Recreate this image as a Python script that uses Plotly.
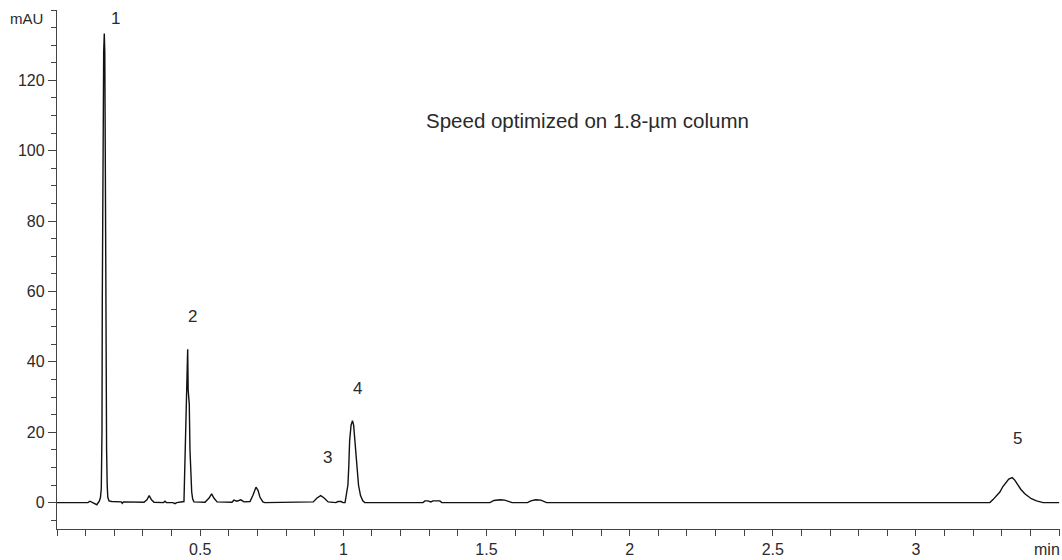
import plotly.graph_objects as go

# Chromatogram trace (time in min, absorbance in mAU)
time_min = [
    0.000, 0.108, 0.115, 0.127, 0.139, 0.148, 0.1519, 0.1547, 0.1571, 0.1582,
    0.1606, 0.1630, 0.1652, 0.1669, 0.1686, 0.1700, 0.1718, 0.1732, 0.1753,
    0.1774, 0.1816, 0.1910, 0.224, 0.228, 0.232, 0.280,
    0.304, 0.314, 0.322, 0.330, 0.339, 0.372, 0.377, 0.382, 0.405, 0.412, 0.418,
    0.4434, 0.4452, 0.4487, 0.4504, 0.4546, 0.4564, 0.4581, 0.4620, 0.4644,
    0.4669, 0.4704, 0.4739, 0.4783,
    0.517, 0.531, 0.540, 0.548, 0.559,
    0.611, 0.618, 0.628, 0.642, 0.653,
    0.674, 0.684, 0.695, 0.702, 0.709, 0.719, 0.726,
    0.895, 0.908, 0.921, 0.932, 0.947,
    0.974, 0.981, 0.992, 0.999,
    1.006, 1.011, 1.016, 1.019, 1.022, 1.027, 1.032, 1.036, 1.040, 1.049,
    1.053, 1.060, 1.068, 1.075,
    1.278, 1.285, 1.295, 1.306, 1.313, 1.337, 1.344,
    1.512, 1.526, 1.547, 1.564, 1.582, 1.589,
    1.643, 1.655, 1.672, 1.690, 1.710,
    3.258, 3.269, 3.293, 3.303, 3.316, 3.324, 3.336, 3.345, 3.357, 3.366,
    3.380, 3.403, 3.421, 3.444, 3.500,
]
absorbance_mau = [
    0.0, 0.0, 0.4, 0.0, -0.6, 0.5, 1.5, 4.0, 20.0, 58.0,
    105.0, 128.0, 133.3, 128.0, 100.0, 58.0, 25.0, 15.0, 5.0,
    1.5, 0.5, 0.3, 0.2, -0.2, 0.2, 0.0,
    0.1, 0.8, 2.0, 0.8, 0.1, 0.0, 0.4, 0.0, 0.0, -0.3, 0.0,
    0.3, 6.0, 20.0, 28.6, 38.0, 43.6, 32.0, 28.0, 15.0,
    8.8, 3.0, 1.0, 0.2,
    0.1, 1.3, 2.5, 1.3, 0.2,
    0.1, 0.7, 0.4, 0.8, 0.2,
    0.3, 2.0, 4.4, 3.5, 1.5, 0.2, 0.0,
    0.2, 1.3, 2.0, 1.4, 0.2,
    0.0, 0.3, 0.3, 0.0,
    0.0, 2.0, 5.0, 10.2, 17.6, 22.0, 23.3, 22.0, 17.6, 10.2,
    5.0, 2.0, 0.5, 0.0,
    0.0, 0.5, 0.5, 0.2, 0.5, 0.5, 0.0,
    0.0, 0.6, 0.8, 0.7, 0.2, 0.0,
    0.0, 0.5, 0.8, 0.7, 0.0,
    0.0, 0.85, 3.0, 4.5, 5.9, 6.7, 7.1, 6.4, 4.9, 3.8,
    2.5, 1.1, 0.5, 0.0, 0.0,
]

peak_labels = ["1", "2", "3", "4", "5"]
peak_label_x = [0.206, 0.474, 0.944, 1.049, 3.353]
peak_label_y = [137.6, 53.0, 12.7, 32.3, 18.1]

x_tick_vals = [0.5, 1.0, 1.5, 2.0, 2.5, 3.0]
x_tick_text = ["0.5", "1", "1.5", "2", "2.5", "3"]
y_tick_vals = [0, 20, 40, 60, 80, 100, 120]

title_text = "Speed optimized on 1.8-µm column"

TEXT_FONT = "Liberation Sans, Arial, sans-serif"
DIGIT_FONT = "Liberation Sans Narrow, Liberation Sans, Arial, sans-serif"
INK = "#2a2a2a"

fig = go.Figure()
fig.add_trace(go.Scatter(
    x=time_min, y=absorbance_mau, mode="lines",
    line=dict(color="#111111", width=1.4),
    hoverinfo="skip", showlegend=False,
))

annotations = []
for lab, lx, ly in zip(peak_labels, peak_label_x, peak_label_y):
    annotations.append(dict(
        x=lx, y=ly, xref="x", yref="y", text=lab, showarrow=False,
        font=dict(family=DIGIT_FONT, size=17, color=INK),
        xanchor="center", yanchor="middle",
    ))
annotations.append(dict(
    x=1.852, y=108.6, xref="x", yref="y", text=title_text, showarrow=False,
    font=dict(family=TEXT_FONT, size=20.5, color=INK),
    xanchor="center", yanchor="middle",
))
annotations.append(dict(
    x=0, y=137.6, xref="paper", yref="y", text="mAU", showarrow=False,
    font=dict(family=TEXT_FONT, size=15, color=INK),
    xanchor="right", yanchor="middle", xshift=-12,
))
annotations.append(dict(
    x=1, y=0, xref="paper", yref="paper", text="min", showarrow=False,
    font=dict(family=TEXT_FONT, size=16, color=INK),
    xanchor="right", yanchor="top", yshift=-10, xshift=2,
))

fig.update_layout(
    width=1062, height=560,
    margin=dict(l=57, r=2, t=10, b=29),
    paper_bgcolor="white", plot_bgcolor="white",
    annotations=annotations,
    xaxis=dict(
        range=[0, 3.503], showgrid=False, zeroline=False,
        showline=True, linecolor="#444", linewidth=1.3,
        tickmode="array", tickvals=x_tick_vals, ticktext=x_tick_text,
        ticks="outside", ticklen=6, tickwidth=1.2, tickcolor="#444",
        tickfont=dict(family=DIGIT_FONT, size=16, color=INK),
        minor=dict(dtick=0.1, tick0=0, ticks="outside", ticklen=6,
                   tickwidth=1.2, tickcolor="#444", showgrid=False),
    ),
    yaxis=dict(
        range=[-7.5, 140], showgrid=False, zeroline=False,
        showline=True, linecolor="#444", linewidth=1.3,
        tickmode="array", tickvals=y_tick_vals,
        ticks="outside", ticklen=8, tickwidth=1.2, tickcolor="#444",
        tickfont=dict(family=DIGIT_FONT, size=16, color=INK),
        minor=dict(dtick=5, tick0=0, ticks="outside", ticklen=5,
                   tickwidth=1.2, tickcolor="#444", showgrid=False),
    ),
)

fig.write_html(
    "out.html",
    config={"displayModeBar": False},
    post_script="document.body.style.margin='0';document.body.style.padding='0';",
)
